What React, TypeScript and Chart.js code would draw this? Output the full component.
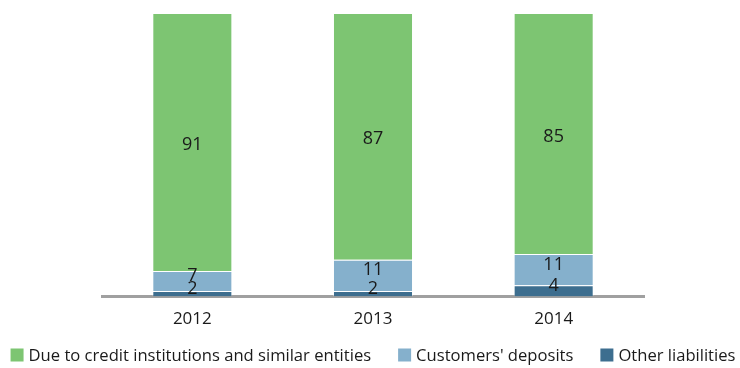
import React, { useEffect, useRef } from "react";
import { Chart, registerables } from "chart.js";

Chart.register(...registerables);

const years = ["2012", "2013", "2014"];
const otherLiabilities = [2, 2, 4];
const customersDeposits = [7, 11, 11];
const dueToCredit = [91, 87, 85];

const seriesNames = [
  "Other liabilities",
  "Customers' deposits",
  "Due to credit institutions and similar entities",
];
const seriesColors = ["#3D6E8F", "#85B0CC", "#7DC572"];

const FONT = "'Open Sans', 'Noto Sans', sans-serif";

const labelPlugin = {
  id: "segLabels",
  afterDatasetsDraw(chart: any) {
    const ctx = chart.ctx;
    ctx.save();
    ctx.font = `18px ${FONT}`;
    ctx.fillStyle = "#1a1a1a";
    ctx.textAlign = "center";
    ctx.textBaseline = "middle";
    chart.data.datasets.forEach((ds: any, di: number) => {
      const meta = chart.getDatasetMeta(di);
      meta.data.forEach((el: any, i: number) => {
        const v = ds.data[i];
        const mid = (el.y + el.base) / 2;
        const off = di === 2 ? 3 : -5;
        ctx.fillText(String(v), el.x, mid + off);
      });
    });
    ctx.restore();
  },
};

const legendPlugin = {
  id: "customLegend",
  afterDraw(chart: any) {
    const ctx = chart.ctx;
    ctx.save();
    ctx.font = `16.6px ${FONT}`;
    ctx.textBaseline = "middle";
    ctx.textAlign = "left";
    const box = 13;
    const gap = 5;
    const itemGap = 27;
    const items = chart.data.datasets
      .map((d: any) => ({ text: d.label, color: d.backgroundColor }))
      .reverse();
    const widths = items.map((it: any) => box + gap + ctx.measureText(it.text).width);
    const total = widths.reduce((a: number, b: number) => a + b, 0) + itemGap * (items.length - 1);
    let x = (chart.width - total) / 2 + 3;
    const cy = 355;
    items.forEach((it: any, i: number) => {
      ctx.fillStyle = it.color;
      ctx.fillRect(x, cy - box / 2, box, box);
      ctx.fillStyle = "#1a1a1a";
      ctx.fillText(it.text, x + box + gap, cy + 1);
      x += widths[i] + itemGap;
    });
    ctx.restore();
  },
};

export default function App() {
  const ref = useRef<HTMLCanvasElement>(null);
  useEffect(() => {
    if (!ref.current) return;
    const values = [otherLiabilities, customersDeposits, dueToCredit];
    const chart = new Chart(ref.current, {
      type: "bar",
      data: {
        labels: years,
        datasets: values.map((arr, i) => ({
          label: seriesNames[i],
          data: arr,
          backgroundColor: seriesColors[i],
          borderColor: "rgba(255,255,255,0.35)",
          borderWidth: 1,
          barPercentage: 0.443,
          categoryPercentage: 1,
        })),
      },
      options: {
        responsive: false,
        animation: false,
        devicePixelRatio: 1,
        layout: { padding: { left: 102, right: 96, top: 13, bottom: 27 } },
        plugins: { legend: { display: false }, tooltip: { enabled: false } },
        scales: {
          x: {
            stacked: true,
            z: 1,
            grid: { display: false, drawTicks: false },
            border: { display: true, color: "#A0A0A0", width: 3 },
            ticks: { color: "#1a1a1a", font: { family: FONT, size: 17 }, padding: 12 },
          },
          y: {
            stacked: true,
            display: false,
            min: 0,
            max: 100,
          },
        },
      },
      plugins: [labelPlugin, legendPlugin],
    });
    return () => chart.destroy();
  }, []);
  return (
    <div style={{ position: "fixed", left: 0, top: 0, width: 740, height: 368, background: "#fff" }}>
      <canvas ref={ref} width={740} height={368} style={{ width: 740, height: 368 }} />
    </div>
  );
}
